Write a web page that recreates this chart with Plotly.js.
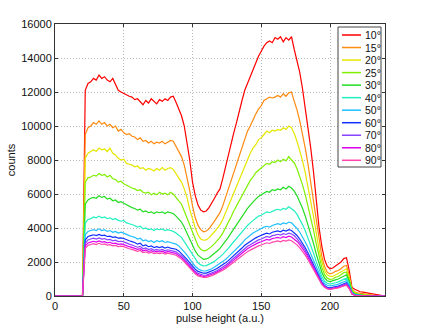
<!DOCTYPE html>
<html><head><meta charset="utf-8">
<script src="https://cdn.plot.ly/plotly-3.0.1.min.js"></script>
<style>html,body{margin:0;padding:0;background:#fff;}#chart{width:425px;height:333px;}</style>
</head><body><div id="chart"></div>
<script>
const pulseHeight = [0,2,4,6,8,10,12,14,16,18,20,22,24,26,28,30,32,34,36,38,40,42,44,46,48,50,52,54,56,58,60,62,64,66,68,70,72,74,76,78,80,82,84,86,88,90,92,94,96,98,100,102,104,106,108,110,112,114,116,118,120,122,124,126,128,130,132,134,136,138,140,142,144,146,148,150,152,154,156,158,160,162,164,166,168,170,172,174,176,178,180,182,184,186,188,190,192,194,196,198,200,202,204,206,208,210,212,214,216,218,220,222,224,226,228,230,232,234,236,238,240];

const angleLabels = ['10°','15°','20°','25°','30°','40°','50°','60°','70°','80°','90°'];
const lineColors = ['#ff0000','#ff8a10','#e6e600','#80f000','#22dd22','#20f0c0','#20c0ff','#1030ff','#8844ff','#dd00ee','#ff44aa'];

const c10 = [0,0,0,0,0,0,0,0,0,0,0,
 12100,12500,12600,12800,12700,13000,12800,12900,12700,12600,
 12800,12400,12100,12000,11900,11800,11750,11700,11550,11600,
 11400,11250,11500,11350,11600,11450,11300,11550,11450,11600,
 11500,11700,11750,11400,11000,10600,10000,9100,8000,6700,
 5900,5350,5050,4950,5000,5200,5450,5750,6050,6300,
 6900,7600,8300,9000,9600,10200,10900,11500,12100,12500,
 13000,13400,13800,14100,14400,14700,14900,15000,14900,15200,
 15100,15250,14950,15200,15050,15250,14500,13850,13150,12200,
 11100,10000,8700,7300,5700,4050,2950,2150,1750,1600,
 1650,1750,1850,2000,2200,2250,1500,500,400,300,
 250,230,200,150,100,80,50,30,20,20];
const c15 = [0,0,0,0,0,0,0,0,0,0,0,
 9500,9900,10000,10200,10100,10300,10100,10200,10000,10100,
 9900,10000,9700,9800,9600,9500,9550,9400,9350,9200,
 9300,9100,9150,9000,9100,8950,9050,9000,9100,8950,
 9050,9150,9100,8800,8500,8200,7700,7000,6200,5300,
 4600,4150,3900,3780,3820,3950,4150,4400,4650,4900,
 5300,5800,6300,6800,7300,7800,8300,8800,9300,9700,
 10000,10400,10700,11000,11200,11500,11600,11700,11650,11700,
 11800,11700,11900,11750,11950,12000,11450,10950,10300,9550,
 8700,7750,6650,5600,4400,3200,2350,1750,1400,1300,
 1350,1450,1500,1600,1750,1800,1200,400,250,180,
 150,120,100,80,60,40,20,10,0,0];
const c20 = [0,0,0,0,0,0,0,0,0,0,0,
 8100,8400,8500,8600,8500,8700,8600,8650,8500,8700,
 8400,8300,8100,8000,8050,7800,7750,7700,7600,7650,
 7500,7550,7400,7500,7450,7350,7500,7400,7550,7400,
 7500,7550,7450,7200,7000,6700,6300,5800,5100,4500,
 4000,3600,3350,3280,3300,3420,3580,3780,3980,4200,
 4500,4900,5300,5700,6100,6500,6900,7300,7700,8000,
 8400,8700,8900,9200,9300,9500,9700,9600,9750,9700,
 9800,9750,9900,9800,10000,9900,9560,9100,8580,7960,
 7260,6460,5580,4690,3720,2740,2040,1500,1240,1150,
 1150,1250,1300,1400,1550,1600,1050,350,200,120,
 100,80,60,40,30,20,10,0,0,0];
const c25 = [0,0,0,0,0,0,0,0,0,0,0,
 6700,6950,7000,7100,7050,7200,7100,7150,7000,7100,
 6900,6850,6700,6750,6600,6500,6450,6350,6300,6200,
 6250,6100,6050,6100,5950,6050,5950,6100,6000,6050,
 5950,6100,6000,5800,5600,5400,5000,4600,4100,3700,
 3300,2950,2750,2650,2680,2780,2920,3080,3250,3450,
 3700,4000,4300,4650,5000,5300,5600,5950,6250,6500,
 6800,7000,7250,7400,7550,7700,7800,7750,7900,7850,
 8000,7900,8050,7950,8200,8000,7840,7480,7040,6540,
 5960,5310,4590,3870,3070,2280,1700,1270,1050,980,
 1000,1100,1150,1250,1380,1400,950,300,150,100,
 80,60,40,30,20,10,0,0,0,0];
const c30 = [0,0,0,0,0,0,0,0,0,0,0,
 5400,5650,5750,5800,5750,5900,5800,5850,5700,5750,
 5600,5650,5500,5550,5450,5350,5300,5200,5150,5050,
 5100,4950,5000,4900,4950,4850,4950,4900,4950,4850,
 4950,4900,4850,4700,4550,4350,4050,3700,3300,2950,
 2650,2400,2250,2150,2180,2250,2380,2500,2650,2800,
 3000,3200,3450,3700,3950,4200,4450,4700,4950,5150,
 5350,5550,5700,5850,5950,6050,6150,6100,6250,6200,
 6300,6250,6400,6300,6450,6350,6170,5890,5550,5160,
 4710,4210,3650,3090,2470,1860,1410,1070,900,850,
 880,950,1000,1100,1200,1250,850,250,120,80,
 60,40,30,20,10,0,0,0,0,0];
const c40 = [0,0,0,0,0,0,0,0,0,0,0,
 4300,4500,4550,4650,4600,4700,4600,4650,4550,4600,
 4500,4550,4450,4400,4450,4300,4250,4200,4150,4050,
 4100,3950,4000,3900,3950,3850,3950,3900,3950,3850,
 3900,3850,3800,3700,3600,3450,3200,2950,2650,2400,
 2150,1950,1830,1770,1790,1850,1950,2050,2150,2300,
 2450,2600,2800,3000,3200,3400,3600,3800,4000,4150,
 4300,4450,4550,4700,4750,4850,4950,4900,5000,5050,
 5100,5050,5150,5100,5250,5150,5020,4800,4520,4200,
 3840,3430,2980,2520,2020,1520,1160,880,750,700,
 720,780,830,900,1000,1050,700,200,100,60,
 40,30,20,10,0,0,0,0,0,0];
const c50 = [0,0,0,0,0,0,0,0,0,0,0,
 3600,3800,3850,3900,3850,3950,3850,3900,3800,3850,
 3750,3800,3700,3750,3700,3600,3550,3500,3450,3350,
 3400,3250,3300,3200,3250,3150,3250,3200,3250,3150,
 3200,3150,3100,3050,2950,2800,2600,2400,2150,1950,
 1750,1600,1520,1470,1480,1530,1600,1700,1800,1900,
 2000,2150,2300,2450,2650,2800,2950,3100,3300,3450,
 3550,3700,3800,3900,3950,4050,4100,4050,4150,4200,
 4250,4200,4300,4250,4350,4300,4160,3970,3750,3480,
 3180,2850,2470,2090,1680,1270,970,740,630,590,
 600,650,700,760,850,900,600,180,80,50,
 30,20,10,0,0,0,0,0,0,0];
const c60 = [0,0,0,0,0,0,0,0,0,0,0,
 3300,3500,3550,3600,3550,3620,3550,3580,3500,3520,
 3450,3480,3400,3420,3380,3300,3250,3200,3150,3050,
 3100,2950,3000,2900,2950,2850,2900,2850,2900,2820,
 2880,2820,2800,2750,2650,2500,2350,2150,1950,1750,
 1580,1450,1380,1340,1350,1400,1460,1540,1630,1720,
 1820,1950,2080,2220,2380,2520,2680,2820,2980,3100,
 3200,3320,3420,3500,3550,3640,3700,3650,3750,3780,
 3830,3780,3870,3820,3900,3850,3730,3560,3350,3110,
 2840,2530,2190,1850,1470,1100,820,620,510,480,
 500,540,580,650,720,780,520,150,60,30,
 20,10,0,0,0,0,0,0,0,0];
const c70 = [0,0,0,0,0,0,0,0,0,0,0,
 3100,3300,3350,3400,3350,3420,3350,3380,3300,3330,
 3250,3280,3200,3220,3180,3100,3050,3000,2950,2870,
 2920,2780,2830,2730,2780,2690,2740,2690,2740,2660,
 2720,2660,2640,2600,2500,2360,2200,2000,1800,1610,
 1450,1330,1260,1220,1230,1280,1340,1420,1500,1590,
 1690,1810,1940,2080,2230,2370,2520,2660,2800,2920,
 3020,3130,3220,3300,3350,3440,3500,3450,3550,3580,
 3630,3580,3670,3620,3700,3650,3540,3370,3180,2950,
 2690,2400,2070,1740,1390,1030,770,570,470,440,
 460,500,540,600,660,720,480,130,50,30,
 10,0,0,0,0,0,0,0,0,0];
const c80 = [0,0,0,0,0,0,0,0,0,0,0,
 2950,3120,3170,3220,3170,3240,3170,3200,3130,3160,
 3080,3110,3040,3060,3020,2950,2900,2860,2810,2740,
 2790,2660,2710,2620,2670,2590,2640,2590,2640,2560,
 2620,2560,2540,2500,2400,2260,2100,1910,1710,1530,
 1370,1250,1180,1150,1160,1210,1270,1340,1420,1500,
 1600,1710,1830,1970,2110,2250,2390,2530,2660,2780,
 2880,2980,3070,3140,3190,3270,3330,3290,3380,3410,
 3450,3400,3490,3440,3520,3470,3360,3210,3020,2800,
 2560,2280,1970,1650,1310,970,720,530,440,410,
 430,470,510,560,620,670,450,120,40,20,
 10,0,0,0,0,0,0,0,0,0];
const c90 = [0,0,0,0,0,0,0,0,0,0,0,
 2800,2980,3030,3080,3030,3100,3030,3060,2990,3020,
 2950,2980,2910,2930,2900,2830,2780,2740,2700,2630,
 2680,2560,2600,2520,2570,2490,2540,2490,2540,2460,
 2520,2460,2440,2400,2310,2170,2010,1820,1630,1450,
 1300,1180,1120,1090,1100,1140,1200,1270,1340,1420,
 1510,1620,1730,1860,1990,2120,2250,2380,2500,2610,
 2700,2800,2880,2950,3000,3070,3130,3090,3170,3200,
 3240,3190,3270,3230,3300,3250,3150,3010,2830,2630,
 2400,2140,1850,1550,1230,910,680,510,420,390,
 410,440,480,530,580,630,420,110,40,20,
 10,0,0,0,0,0,0,0,0,0];

const allSeries = [c10,c15,c20,c25,c30,c40,c50,c60,c70,c80,c90];

const traces = allSeries.map((ys, i) => ({
  x: pulseHeight, y: ys, type: 'scatter', mode: 'lines', name: angleLabels[i],
  line: {color: lineColors[i], width: 1.2}, showlegend: false, hoverinfo: 'skip'
}));

// legend drawn in paper coordinates (plot area: x 55..385 px, y 24..296 px)
const W = 330, H = 272, L = 55, T = 24;
const px2x = p => (p - L) / W;
const py2y = p => (T + H - p) / H;
const shapes = [{
  type: 'rect', xref: 'paper', yref: 'paper',
  x0: px2x(338), x1: px2x(381), y0: py2y(167), y1: py2y(27),
  line: {color: '#444', width: 1}, fillcolor: '#fff', layer: 'above'
}];
const annotations = [];
angleLabels.forEach((lab, i) => {
  const py = 35 + 12.53 * i;
  shapes.push({type: 'line', xref: 'paper', yref: 'paper', x0: px2x(342), x1: px2x(361),
    y0: py2y(py), y1: py2y(py), line: {color: lineColors[i], width: 1.5}, layer: 'above'});
  annotations.push({xref: 'paper', yref: 'paper', x: px2x(362.5), y: py2y(py), text: lab,
    xanchor: 'left', yanchor: 'middle', showarrow: false,
    font: {size: 10.5, color: '#111', family: 'Liberation Sans, Arial, sans-serif'}});
});

const axisCommon = {
  ticks: 'inside', ticklen: 3, tickcolor: '#333', showline: true, linecolor: '#333', linewidth: 1,
  mirror: 'ticks', showgrid: true, gridcolor: '#b8b8b8', griddash: '1px,2px', gridwidth: 1,
  zeroline: false, automargin: false, tickfont: {size: 11, color: '#111'}
};

const layout = {
  width: 425, height: 333,
  margin: {l: 55, r: 40, t: 24, b: 37},
  paper_bgcolor: '#fff', plot_bgcolor: '#fff',
  font: {family: 'Liberation Sans, Arial, sans-serif', size: 11, color: '#111'},
  showlegend: false,
  xaxis: Object.assign({}, axisCommon, {
    range: [0, 240], tickvals: [0, 50, 100, 150, 200],
    title: {text: 'pulse height (a.u.)', standoff: 1, font: {size: 11, color: '#111'}}
  }),
  yaxis: Object.assign({}, axisCommon, {
    range: [0, 16000], dtick: 2000, tick0: 0, tickformat: 'd',
    title: {text: 'counts', standoff: 3, font: {size: 11, color: '#111'}}
  }),
  shapes: shapes, annotations: annotations
};

Plotly.newPlot('chart', traces, layout, {staticPlot: true, displayModeBar: false});
</script>
</body></html>
